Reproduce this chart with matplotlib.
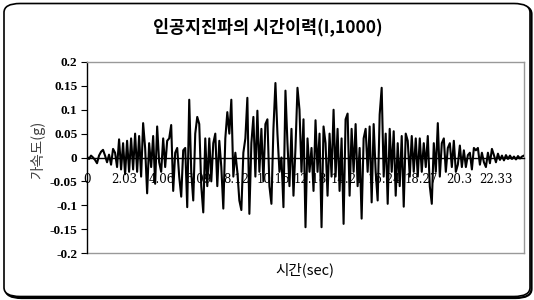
import matplotlib
matplotlib.use("Agg")
import matplotlib.pyplot as plt
from matplotlib.patches import FancyBboxPatch
import numpy as np

plt.rcParams['font.family'] = ['Noto Sans CJK KR', 'DejaVu Sans']

title = "인공지진파의 시간이력(I,1000)"
xlabel = "시간(sec)"
ylabel = "가속도(g)"
duration = 23.86
xtick_labels = ["0", "2.03", "4.06", "6.09", "8.12", "10.15", "12.18", "14.21",
                "16.24", "18.27", "20.3", "22.33"]
xtick_values = [0, 2.03, 4.06, 6.09, 8.12, 10.15, 12.18, 14.21, 16.24, 18.27, 20.3, 22.33]
yticks = [0.2, 0.15, 0.1, 0.05, 0, -0.05, -0.1, -0.15, -0.2]
ytick_labels = ["0.2", "0.15", "0.1", "0.05", "0", "-0.05", "-0.1", "-0.15", "-0.2"]

accel = [
    0.002, -0.003, 0.004, 0.000, -0.005, -0.012, 0.004, 0.012, 0.016, 0.004,
    -0.010, 0.006, -0.015, 0.018, 0.010, -0.020, 0.038, -0.025, 0.030, -0.035,
    0.035, -0.030, 0.040, -0.025, 0.050, -0.030, 0.045, -0.040, 0.072, 0.020,
    -0.075, 0.030, -0.020, 0.045, -0.055, 0.065, -0.010, -0.030, 0.040, -0.020,
    0.035, 0.040, 0.068, -0.070, 0.010, 0.020, -0.040, -0.082, 0.015, 0.020,
    -0.104, 0.121, -0.030, -0.090, 0.050, 0.085, 0.070, -0.060, -0.115, 0.040,
    -0.060, 0.040, -0.050, 0.030, 0.050, -0.060, 0.035, -0.020, -0.107, 0.040,
    0.095, 0.050, 0.121, -0.040, 0.010, -0.030, -0.090, -0.110, 0.010, 0.040,
    0.125, -0.118, 0.030, 0.085, -0.040, 0.098, -0.030, 0.060, -0.050, 0.070,
    0.080, -0.060, -0.097, 0.060, 0.156, 0.050, -0.030, 0.000, -0.104, 0.140,
    0.030, -0.060, 0.060, -0.080, 0.020, 0.146, 0.100, -0.030, 0.080, -0.146,
    0.040, -0.030, 0.020, -0.070, 0.078, -0.030, 0.050, -0.146, 0.065, 0.030,
    -0.080, 0.050, -0.040, 0.100, -0.040, 0.060, -0.070, 0.040, -0.139, 0.080,
    0.092, -0.080, 0.060, -0.030, 0.070, -0.060, 0.020, -0.128, 0.040, 0.060,
    -0.030, 0.065, -0.094, 0.070, -0.030, -0.090, 0.090, 0.146, -0.040, 0.050,
    -0.097, 0.060, -0.030, 0.055, -0.080, 0.030, -0.060, 0.045, -0.103, 0.050,
    0.035, -0.040, 0.045, -0.030, 0.040, -0.040, 0.040, -0.030, 0.030, -0.020,
    0.045, -0.060, -0.097, 0.030, -0.030, 0.072, -0.040, 0.030, 0.040, -0.030,
    0.020, 0.030, -0.020, 0.035, -0.030, -0.015, 0.025, -0.020, 0.015, -0.020,
    0.005, 0.010, -0.025, 0.020, 0.015, 0.020, -0.015, 0.010, -0.010, -0.020,
    0.010, -0.012, 0.018, 0.005, -0.010, 0.008, -0.005, 0.004, -0.006, 0.005,
    -0.003, 0.004, -0.003, 0.002, -0.004, 0.003, -0.002, 0.002, 0.004,
]

t = np.linspace(0, duration, len(accel))

fig = plt.figure(figsize=(5.34, 3.0), dpi=100)
# rounded border with slight shadow
shadow = FancyBboxPatch((5.5 / 534, 2.0 / 300), 526 / 534, 293 / 300,
                        boxstyle="round,pad=0,rounding_size=0.03",
                        transform=fig.transFigure, facecolor='none',
                        edgecolor='black', linewidth=1.6, zorder=-2)
border = FancyBboxPatch((4.0 / 534, 3.5 / 300), 526 / 534, 293 / 300,
                        boxstyle="round,pad=0,rounding_size=0.03",
                        transform=fig.transFigure, facecolor='white',
                        edgecolor='black', linewidth=1.2, zorder=-1)
fig.patches.extend([shadow, border])

ax = fig.add_axes([87 / 534, 1 - 253 / 300, (524 - 87) / 534, (253 - 62) / 300])
ax.set_zorder(5)
ax.set_facecolor('white')
ax.plot(t, accel, color='black', linewidth=1.5, zorder=3)
ax.set_xlim(0, duration)
ax.set_ylim(-0.2, 0.2)

ax.set_yticks(yticks)
ax.set_yticklabels(ytick_labels, fontfamily='Liberation Serif', fontsize=9.5,
                   fontweight='bold')
ax.tick_params(axis='y', direction='out', length=4, width=0.8, pad=3, colors='black')

ax.spines['bottom'].set_position(('data', 0))
ax.spines['bottom'].set_color('black')
ax.spines['bottom'].set_linewidth(1.0)
ax.spines['bottom'].set_zorder(4)
ax.set_xticks(xtick_values)
ax.set_xticklabels(xtick_labels, fontfamily='DejaVu Serif', fontsize=8.5)
ax.tick_params(axis='x', length=0, pad=11)
ax.spines['left'].set_color('black')
ax.spines['left'].set_linewidth(1.0)
for s in ['top', 'right']:
    ax.spines[s].set_color('#999999')
    ax.spines[s].set_linewidth(1.0)
ax.plot([0, 1], [0, 0], transform=ax.transAxes, color='#999999', linewidth=1.0,
        clip_on=False, zorder=2)

fig.text(268 / 534, 1 - 27 / 300, title, ha='center', va='center', fontsize=12.5,
         fontweight='bold', family=['Noto Sans CJK KR', 'DejaVu Sans'])
fig.text(305 / 534, 1 - 270 / 300, xlabel, ha='center', va='center', fontsize=10.5,
         family=['Noto Sans CJK KR', 'DejaVu Sans'])
fig.text(38 / 534, 1 - 150 / 300, ylabel, ha='center', va='center', fontsize=10.5,
         rotation=90, color='#444444', family=['Noto Sans CJK KR', 'DejaVu Sans'])

fig.savefig("out.png", dpi=100)
